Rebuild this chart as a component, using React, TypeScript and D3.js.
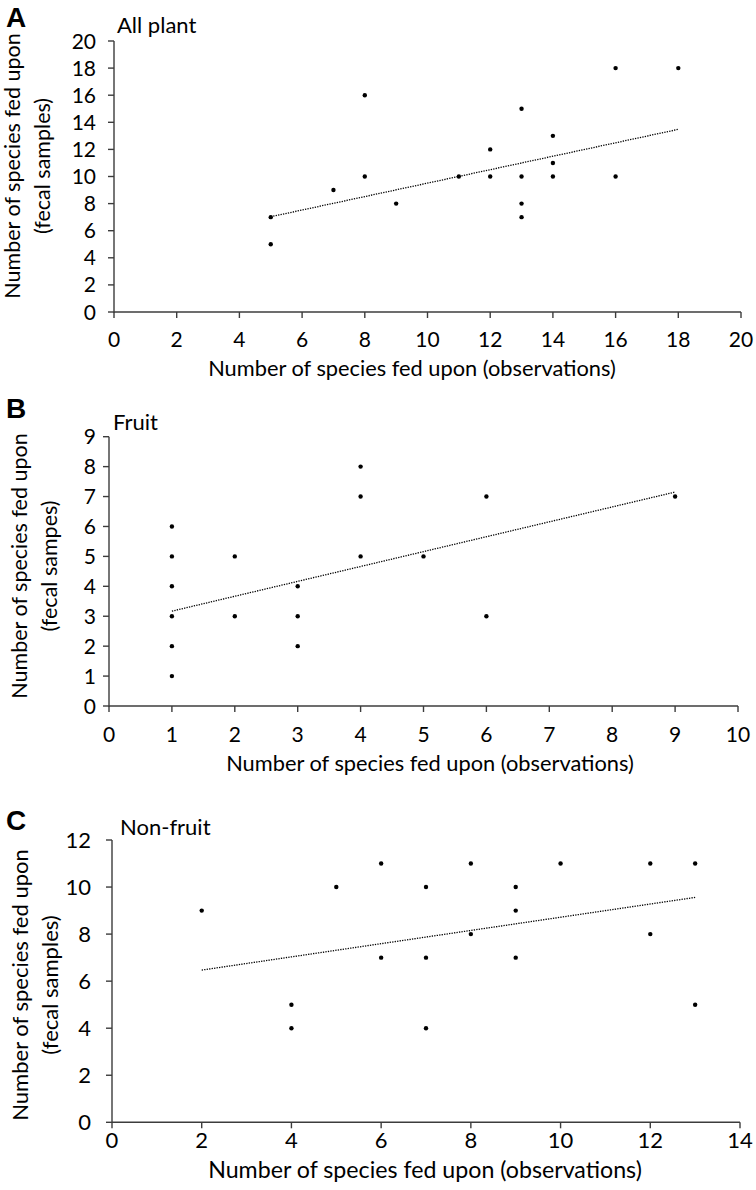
import React from "react";
import * as d3 from "d3";

// Panel A — All plant
const allPlantObs = [5, 5, 7, 8, 8, 9, 11, 12, 12, 13, 13, 13, 13, 14, 14, 14, 16, 16, 18];
const allPlantFecal = [7, 5, 9, 16, 10, 8, 10, 12, 10, 15, 10, 8, 7, 13, 11, 10, 18, 10, 18];
const allPlantTrendX = [5, 18];
const allPlantTrendY = [7.03, 13.48];
const allPlantXTicks = [0, 2, 4, 6, 8, 10, 12, 14, 16, 18, 20];
const allPlantYTicks = [0, 2, 4, 6, 8, 10, 12, 14, 16, 18, 20];

// Panel B — Fruit
const fruitObs = [1, 1, 1, 1, 1, 1, 2, 2, 3, 3, 3, 4, 4, 4, 5, 6, 6, 9];
const fruitFecal = [6, 5, 4, 3, 2, 1, 5, 3, 4, 3, 2, 8, 7, 5, 5, 7, 3, 7];
const fruitTrendX = [1, 9];
const fruitTrendY = [3.17, 7.15];
const fruitXTicks = [0, 1, 2, 3, 4, 5, 6, 7, 8, 9, 10];
const fruitYTicks = [0, 1, 2, 3, 4, 5, 6, 7, 8, 9];

// Panel C — Non-fruit
const nonFruitObs = [2, 4, 4, 5, 6, 6, 7, 7, 7, 8, 8, 9, 9, 9, 10, 12, 12, 13, 13];
const nonFruitFecal = [9, 5, 4, 10, 11, 7, 10, 7, 4, 11, 8, 10, 9, 7, 11, 11, 8, 11, 5];
const nonFruitTrendX = [2, 13];
const nonFruitTrendY = [6.47, 9.56];
const nonFruitXTicks = [0, 2, 4, 6, 8, 10, 12, 14];
const nonFruitYTicks = [0, 2, 4, 6, 8, 10, 12];

const xTitle = "Number of species fed upon (observations)";
const yTitle1 = "Number of species fed upon";

const FONT = "Lato, 'Open Sans', sans-serif";
const AXIS = "#3c3c3c";

type PanelProps = {
  letter: string;
  label: string;
  xs: number[];
  ys: number[];
  tx: number[];
  ty: number[];
  xTicks: number[];
  yTicks: number[];
  yTitle2: string;
  x0: number; x1: number; y0: number; y1: number;
  letterY: number; labelX: number; labelY: number;
  yLabelRight: number;
  xLabelBase: number;
  xTitleX: number; xTitleBase: number; xTitleSize: number;
  yTitleCenter: number; yBase1: number; yBase2: number; yTitleSize: number;
  tickSize: number;
};

function Panel(p: PanelProps) {
  const x = d3.scaleLinear().domain([p.xTicks[0], p.xTicks[p.xTicks.length - 1]]).range([p.x0, p.x1]);
  const y = d3.scaleLinear().domain([p.yTicks[0], p.yTicks[p.yTicks.length - 1]]).range([p.y0, p.y1]);
  const line = d3.line<number>().x((d) => x(p.tx[d])).y((d) => y(p.ty[d]));
  return (
    <g>
      <text x={6} y={p.letterY} fontFamily="Arial, 'Liberation Sans', sans-serif" fontWeight="bold" fontSize={28} fill="#000">{p.letter}</text>
      <text x={p.labelX} y={p.labelY} fontFamily={FONT} fontSize={22} fill="#000">{p.label}</text>
      {/* axes */}
      <line x1={x.range()[0]} x2={x.range()[1]} y1={y.range()[0]} y2={y.range()[0]} stroke={AXIS} strokeWidth={1.4} />
      <line x1={x.range()[0]} x2={x.range()[0]} y1={y.range()[0] + 0.7} y2={y.range()[1]} stroke={AXIS} strokeWidth={1.4} />
      {p.xTicks.map((t) => (
        <g key={"xt" + t}>
          <line x1={x(t)} x2={x(t)} y1={y.range()[0]} y2={y.range()[0] + 6} stroke={AXIS} strokeWidth={1.4} />
          <text x={x(t)} y={p.xLabelBase} textAnchor="middle" fontFamily={FONT} fontSize={p.tickSize} fill="#000">{t}</text>
        </g>
      ))}
      {p.yTicks.map((t) => (
        <g key={"yt" + t}>
          <line x1={x.range()[0] - 6} x2={x.range()[0]} y1={y(t)} y2={y(t)} stroke={AXIS} strokeWidth={1.4} />
          <text x={p.yLabelRight} y={y(t)} dy="0.36em" textAnchor="end" fontFamily={FONT} fontSize={p.tickSize} fill="#000">{t}</text>
        </g>
      ))}
      {/* trend line */}
      <path d={line([0, 1]) || ""} fill="none" stroke="#000" strokeWidth={1.3} strokeDasharray="1.3 1.2" />
      {/* points */}
      {p.xs.map((v, i) => (
        <circle key={"pt" + i} cx={x(v)} cy={y(p.ys[i])} r={2.2} fill="#000" />
      ))}
      {/* titles */}
      <text x={p.xTitleX} y={p.xTitleBase} textAnchor="middle" fontFamily={FONT} fontSize={p.xTitleSize} fill="#000">{xTitle}</text>
      <text transform={`translate(${p.yBase1},${p.yTitleCenter}) rotate(-90)`} textAnchor="middle" fontFamily={FONT} fontSize={p.yTitleSize} fill="#000">{yTitle1}</text>
      <text transform={`translate(${p.yBase2},${p.yTitleCenter}) rotate(-90)`} textAnchor="middle" fontFamily={FONT} fontSize={p.yTitleSize} fill="#000">{p.yTitle2}</text>
    </g>
  );
}

export default function App() {
  return (
    <svg width={756} height={1190} style={{ position: "absolute", left: 0, top: 0, background: "#fff" }}>
      <rect width={756} height={1190} fill="#fff" />
      <Panel
        letter="A" label="All plant" xs={allPlantObs} ys={allPlantFecal} tx={allPlantTrendX} ty={allPlantTrendY}
        xTicks={allPlantXTicks} yTicks={allPlantYTicks} yTitle2="(fecal samples)"
        x0={114} x1={741} y0={312} y1={41}
        letterY={27} labelX={117} labelY={33}
        yLabelRight={96} xLabelBase={347}
        xTitleX={412} xTitleBase={376} xTitleSize={21.8}
        yTitleCenter={166} yBase1={20} yBase2={50} yTitleSize={21.5}
        tickSize={21}
      />
      <Panel
        letter="B" label="Fruit" xs={fruitObs} ys={fruitFecal} tx={fruitTrendX} ty={fruitTrendY}
        xTicks={fruitXTicks} yTicks={fruitYTicks} yTitle2="(fecal sampes)"
        x0={109} x1={738} y0={706} y1={436.7}
        letterY={418} labelX={113} labelY={430}
        yLabelRight={96} xLabelBase={742}
        xTitleX={430} xTitleBase={771} xTitleSize={21.8}
        yTitleCenter={566} yBase1={27} yBase2={57} yTitleSize={21.5}
        tickSize={21}
      />
      <Panel
        letter="C" label="Non-fruit" xs={nonFruitObs} ys={nonFruitFecal} tx={nonFruitTrendX} ty={nonFruitTrendY}
        xTicks={nonFruitXTicks} yTicks={nonFruitYTicks} yTitle2="(fecal samples)"
        x0={112} x1={740} y0={1122.3} y1={840}
        letterY={830} labelX={120} labelY={835}
        yLabelRight={91} xLabelBase={1148}
        xTitleX={425} xTitleBase={1178} xTitleSize={23.2}
        yTitleCenter={985} yBase1={28} yBase2={58} yTitleSize={22}
        tickSize={22}
      />
    </svg>
  );
}
